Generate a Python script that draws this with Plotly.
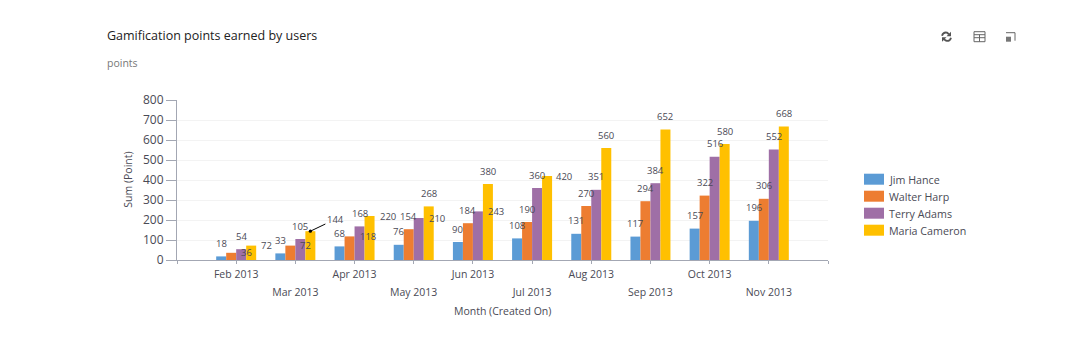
import plotly.graph_objects as go

MONTHS = ["Feb 2013", "Mar 2013", "Apr 2013", "May 2013", "Jun 2013",
          "Jul 2013", "Aug 2013", "Sep 2013", "Oct 2013", "Nov 2013"]
JIM = [18, 33, 68, 76, 90, 108, 131, 117, 157, 196]
WALTER = [36, 72, 118, 154, 184, 190, 270, 294, 322, 306]
TERRY = [54, 105, 168, 210, 243, 360, 351, 384, 516, 552]
MARIA = [72, 144, 220, 268, 380, 420, 560, 652, 580, 668]
NAMES = ["Jim Hance", "Walter Harp", "Terry Adams", "Maria Cameron"]
COLORS = ["#5B9BD5", "#ED7D31", "#9F6FA6", "#FFC000"]
SERIES = [JIM, WALTER, TERRY, MARIA]
YTICKS = [0, 100, 200, 300, 400, 500, 600, 700, 800]
# (month index, series index): label pushed beside the bar instead of above it
SIDE_LABELS = {(0, 1): 15, (0, 3): 15, (1, 1): 15, (2, 1): 18, (2, 3): 18, (3, 2): 18,
               (4, 2): 18, (5, 3): 17}

FONT = "Open Sans"
TXT = "#4a4a55"
AX = "#a3a7b3"
PL, PR, PT, PB = 177, 828, 100.3, 260.3


def xp(px):
    return (px - PL) / (PR - PL)


def yp(py):
    return (PB - py) / (PB - PT)


def rect(x0, y0, x1, y1, **kw):
    return dict(type="rect", xref="paper", yref="paper", x0=xp(x0), x1=xp(x1), y0=yp(y0), y1=yp(y1), **kw)


def line(x0, y0, x1, y1, color="#666666", width=1):
    return dict(type="line", xref="paper", yref="paper", x0=xp(x0), x1=xp(x1), y0=yp(y0), y1=yp(y1),
                line=dict(color=color, width=width))


def label(px, py, text, size, color=TXT, anchor="left", angle=0):
    return dict(xref="paper", yref="paper", x=xp(px), y=yp(py), text=text, showarrow=False, xanchor=anchor,
                yanchor="middle", textangle=angle, font=dict(family=FONT, size=size, color=color))


idx = list(range(len(MONTHS)))
fig = go.Figure()
for name, color, vals in zip(NAMES, COLORS, SERIES):
    fig.add_bar(x=idx, y=vals, name=name, marker=dict(color=color, line_width=0), showlegend=False)
fig.add_scatter(x=idx, y=[None] * len(idx), xaxis="x2", showlegend=False, hoverinfo="skip")

annotations = []
bar_w = 10 / ((PR - PL) / 11)
for s, vals in enumerate(SERIES):
    for m, v in enumerate(vals):
        x = m + (s - 1.5) * bar_w
        if (m, s) == (1, 3):
            annotations.append(dict(x=x, y=v, text=str(v), showarrow=True, arrowhead=6, arrowsize=0.8,
                                    arrowwidth=1, arrowcolor="#000000", ax=25, ay=-12,
                                    font=dict(family=FONT, size=9.5, color=TXT)))
            continue
        side = SIDE_LABELS.get((m, s))
        annotations.append(dict(x=x, y=v, text=str(v), showarrow=False, xanchor="center", yanchor="middle",
                                xshift=side or 0, yshift=0 if side else 13,
                                font=dict(family=FONT, size=9.5, color=TXT)))

annotations += [
    label(105, 36, "Gamification points earned by users", 12.5, "#222222"),
    label(105, 63, "points", 10.5, "#777777"),
    label(128, 180, "Sum (Point)", 10.5, TXT, "center", -90),
    label(502.5, 311, "Month (Created On)", 10.5, TXT, "center"),
]
shapes = []
for i, (name, color) in enumerate(zip(NAMES, COLORS)):
    top = 174 + 17 * i
    shapes.append(rect(864, top, 884, top + 11, fillcolor=color, line_width=0))
    annotations.append(label(887, top + 6.5, name, 10.7, TXT))

# toolbar icons
shapes += [
    rect(974, 32, 985, 42, line=dict(color="#666666", width=1)),
    line(974, 35, 985, 35), line(974, 38, 985, 38), line(979.5, 35, 979.5, 42),
    line(1006, 33, 1015, 33), line(1015, 33, 1015, 41),
    rect(1006, 37, 1011, 42, fillcolor="#777777", line_width=0),
    dict(type="path", xref="paper", yref="paper", line=dict(color="#555555", width=1.8),
         path=f"M {xp(942)},{yp(36)} Q {xp(943)},{yp(32)} {xp(947)},{yp(33)} L {xp(949)},{yp(34.5)} "
              f"M {xp(951)},{yp(38)} Q {xp(950)},{yp(42)} {xp(946)},{yp(41)} L {xp(944)},{yp(39.5)}"),
    dict(type="path", xref="paper", yref="paper", fillcolor="#555555", line_width=0,
         path=f"M {xp(951)},{yp(32)} L {xp(951)},{yp(36.5)} L {xp(946.5)},{yp(36.5)} Z"),
    dict(type="path", xref="paper", yref="paper", fillcolor="#555555", line_width=0,
         path=f"M {xp(942)},{yp(42)} L {xp(942)},{yp(37.5)} L {xp(946.5)},{yp(37.5)} Z"),
]

axis_common = dict(range=[-1, 10], showgrid=False, zeroline=False, showline=True, linecolor=AX, linewidth=1,
                   ticks="outside", ticklen=3, tickcolor=AX, tickfont=dict(family=FONT, size=10.5, color=TXT))
fig.update_layout(
    width=1068, height=342, margin=dict(l=169, r=248, t=92.3, b=89.7),
    paper_bgcolor="white", plot_bgcolor="white",
    barmode="group", bargap=1 - 40 / ((PR - PL) / 11), bargroupgap=0,
    font=dict(family=FONT),
    xaxis=dict(tickmode="array", tickvals=[-1] + idx[::2] + [10], ticktext=[""] + MONTHS[::2] + [""],
               ticklabelstandoff=1, **axis_common),
    xaxis2=dict(overlaying="x", anchor="y", matches="x", tickmode="array", tickvals=idx[1::2], ticktext=MONTHS[1::2],
                ticklabelstandoff=19, **axis_common),
    yaxis=dict(range=[0, 800], tickvals=YTICKS, showgrid=True, gridcolor="#f3f3f3", gridwidth=1, zeroline=False,
               showline=True, linecolor=AX, ticks="outside", ticklen=10, tickcolor=AX,
               tickfont=dict(family=FONT, size=12, color=TXT)),
    annotations=annotations, shapes=shapes,
)
fig.write_html("out.html", config=dict(displayModeBar=False))
